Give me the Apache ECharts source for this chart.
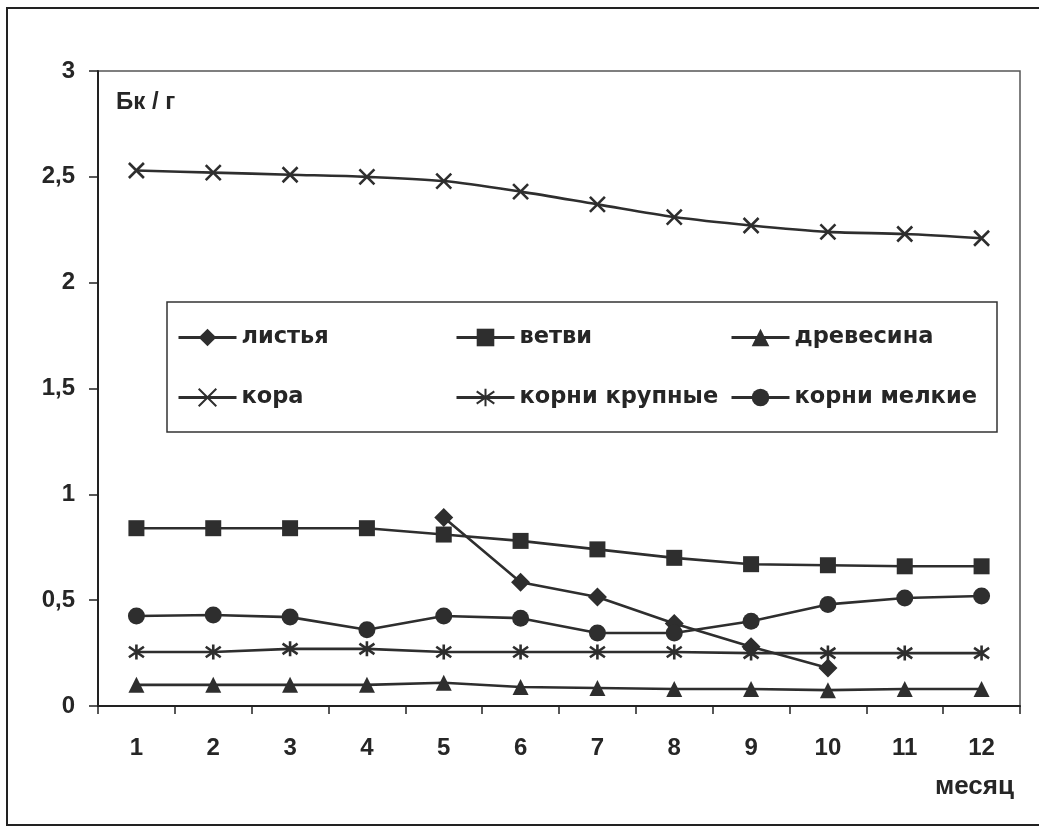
<!DOCTYPE html>
<html><head><meta charset="utf-8">
<script src="https://cdn.jsdelivr.net/npm/echarts@6/dist/echarts.min.js"></script>
<style>html,body{margin:0;padding:0;background:#fff}#c{width:1039px;height:827px}</style>
</head><body><div id="c"></div>
<script>
var months = ['1','2','3','4','5','6','7','8','9','10','11','12'];
var yTicks = [0, 0.5, 1, 1.5, 2, 2.5, 3];
var names = ['листья','ветви','древесина','кора','корни крупные','корни мелкие'];
var listya = [null,null,null,null,0.89,0.585,0.515,0.39,0.28,0.18,null,null];
var vetvi = [0.84,0.84,0.84,0.84,0.81,0.78,0.74,0.70,0.67,0.665,0.66,0.66];
var drevesina = [0.10,0.10,0.10,0.10,0.11,0.09,0.085,0.08,0.08,0.075,0.08,0.08];
var kora = [2.53,2.52,2.51,2.50,2.48,2.43,2.37,2.31,2.27,2.24,2.23,2.21];
var korniKrupnye = [0.255,0.255,0.27,0.27,0.255,0.255,0.255,0.255,0.25,0.25,0.25,0.25];
var korniMelkie = [0.425,0.43,0.42,0.36,0.425,0.415,0.345,0.345,0.40,0.48,0.51,0.52];

var C = '#2e2e2e';
var FONT = '"Liberation Sans", Arial, sans-serif';
var LFONT = '"DejaVu Sans", sans-serif';
var xSym = 'path://M0 0L10 10M10 0L0 10';
var starSym = 'path://M5 0L5 10M0 1.5L10 8.5M10 1.5L0 8.5';

function ser(name, data, symbol, size, stroke, smooth) {
  return {
    name: name, type: 'line', data: data, symbol: symbol, symbolSize: size,
    smooth: smooth || false, connectNulls: false,
    lineStyle: {color: C, width: 2.6},
    itemStyle: stroke ? {color: 'transparent', borderColor: C, borderWidth: 2.6} : {color: C},
    z: 3
  };
}

var series = [
  ser(names[0], listya, 'diamond', 19, false),
  ser(names[1], vetvi, 'rect', 16, false),
  ser(names[2], drevesina, 'triangle', 16, false),
  ser(names[3], kora, xSym, 15, true, 0.3),
  ser(names[4], korniKrupnye, starSym, 15, true),
  ser(names[5], korniMelkie, 'circle', 17, false)
];

function leg(name, left, top) {
  return {
    data: [name], left: left, top: top, itemWidth: 58, itemHeight: 22, itemGap: 0, padding: 0,
    lineStyle: {width: 3, color: C},
    textStyle: {fontFamily: LFONT, fontWeight: 'bold', fontSize: 22.5, color: '#262626'},
    selectedMode: false
  };
}

var chart = echarts.init(document.getElementById('c'), null, {renderer: 'canvas'});
chart.setOption({
  animation: false,
  backgroundColor: '#fff',
  grid: {left: 98, right: 19, top: 71, bottom: 121, show: true, borderColor: '#555', borderWidth: 1.5},
  xAxis: {
    type: 'category', data: months, boundaryGap: true,
    axisLine: {lineStyle: {color: '#222', width: 2}},
    axisTick: {show: true, length: 8, lineStyle: {color: '#222', width: 1.5}},
    axisLabel: {fontFamily: FONT, fontWeight: 'bold', fontSize: 24, color: '#262626', margin: 30}
  },
  yAxis: {
    type: 'value', min: yTicks[0], max: yTicks[yTicks.length-1], interval: 0.5,
    axisLine: {show: true, lineStyle: {color: '#222', width: 2}},
    axisTick: {show: true, inside: false, length: 9, lineStyle: {color: '#222', width: 1.5}},
    splitLine: {show: false},
    axisLabel: {fontFamily: FONT, fontWeight: 'bold', fontSize: 24, color: '#262626', margin: 23,
      formatter: function (v) { return String(v).replace('.', ','); }}
  },
  legend: [
    leg(names[0], 177, 326),
    leg(names[1], 455, 326),
    leg(names[2], 730, 326),
    leg(names[3], 177, 386),
    leg(names[4], 455, 386),
    leg(names[5], 730, 386)
  ],
  graphic: [
    {type: 'rect', shape: {x: 7, y: 8, width: 1045, height: 817}, style: {fill: 'none', stroke: '#222', lineWidth: 2}, silent: true},
    {type: 'rect', shape: {x: 167, y: 302, width: 830, height: 130}, style: {fill: '#fff', stroke: '#333', lineWidth: 1.5}, z: 1, silent: true},
    {type: 'text', x: 116, y: 102, style: {text: 'Бк / г', font: 'bold 24px ' + FONT, fill: '#262626', verticalAlign: 'middle'}},
    {type: 'text', x: 935, y: 787, style: {text: 'месяц', font: 'bold 26px ' + FONT, fill: '#262626', verticalAlign: 'middle'}}
  ],
  series: series
});
</script></body></html>
